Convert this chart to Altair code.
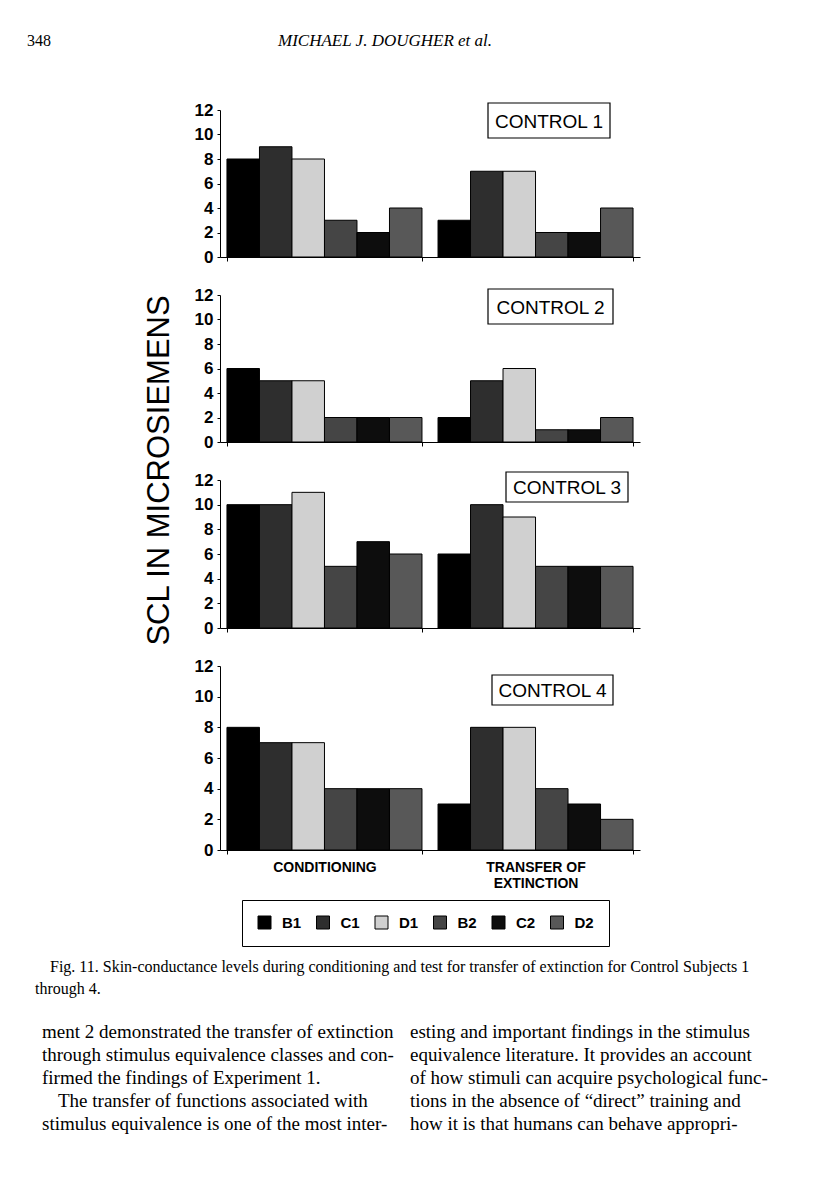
import altair as alt
import pandas as pd

# ---------------- data ----------------
groups = ["CONDITIONING", "TRANSFER OF EXTINCTION"]
series = ["B1", "C1", "D1", "B2", "C2", "D2"]
series_colors = ["#000000", "#2e2e2e", "#d0d0d0", "#454545", "#0d0d0d", "#585858"]

control1_cond = [8, 9, 8, 3, 2, 4]
control1_ext = [3, 7, 7, 2, 2, 4]
control2_cond = [6, 5, 5, 2, 2, 2]
control2_ext = [2, 5, 6, 1, 1, 2]
control3_cond = [10, 10, 11, 5, 7, 6]
control3_ext = [6, 10, 9, 5, 5, 5]
control4_cond = [8, 7, 7, 4, 4, 4]
control4_ext = [3, 8, 8, 4, 3, 2]

y_ticks = [0, 2, 4, 6, 8, 10, 12]
panel_labels = ["CONTROL 1", "CONTROL 2", "CONTROL 3", "CONTROL 4"]
y_title = "SCL IN MICROSIEMENS"

page_number = "348"
running_head = "MICHAEL J. DOUGHER et al."
caption_line1 = ("Fig. 11.  Skin-conductance levels during conditioning and test for "
                 "transfer of extinction for Control Subjects 1")
caption_line2 = "through 4."
left_column = [
    "ment 2 demonstrated the transfer of extinction",
    "through stimulus equivalence classes and con-",
    "firmed the findings of Experiment 1.",
    "The transfer of functions associated with",
    "stimulus equivalence is one of the most inter-",
]
left_indented = [False, False, False, True, False]
right_column = [
    "esting and important findings in the stimulus",
    "equivalence literature. It provides an account",
    "of how stimuli can acquire psychological func-",
    "tions in the absence of \u201cdirect\u201d training and",
    "how it is that humans can behave appropri-",
]

SANS = "Liberation Sans"
SERIF = "Liberation Serif"
W = 420


def text_layer(txt, x, y, **kw):
    return alt.Chart(pd.DataFrame({"t": [txt]})).mark_text(**kw).encode(
        text="t:N", x=alt.value(x), y=alt.value(y)
    )


def panel(cond, ext, label, height, box, legend=None, x_labels=False,
          ytitle=None, extras=()):
    df = pd.DataFrame({
        "group": [groups[0]] * len(series) + [groups[1]] * len(series),
        "series": series * 2,
        "value": cond + ext,
    })
    xaxis = alt.Axis(
        labels=x_labels, ticks=True, tickBand="extent", tickSize=4,
        tickColor="black", domainColor="black", title=None,
        labelFont=SANS, labelFontSize=14, labelFontWeight="bold",
        labelColor="black", labelPadding=6, labelLineHeight=16, labelAngle=0,
        labelExpr="datum.label == 'TRANSFER OF EXTINCTION' ? ['TRANSFER OF', 'EXTINCTION'] : datum.label",
    )
    yaxis_kw = dict(
        values=y_ticks, grid=False, tickSize=3, tickColor="black",
        domainColor="black", labelFont=SANS, labelFontSize=17,
        labelFontWeight="bold", labelColor="black", labelPadding=4,
    )
    if ytitle:
        yaxis = alt.Axis(title=ytitle, titleAngle=270, titleX=-61, titleY=175,
                         titleAlign="center", titleBaseline="middle",
                         titleFont=SANS, titleFontSize=31,
                         titleFontWeight="normal", titleColor="black",
                         **yaxis_kw)
    else:
        yaxis = alt.Axis(title=None, **yaxis_kw)

    bars = alt.Chart(df).mark_bar(stroke="black", strokeWidth=1).encode(
        x=alt.X("group:N", sort=groups,
                scale=alt.Scale(paddingInner=0.076, paddingOuter=0.033),
                axis=xaxis),
        xOffset=alt.XOffset("series:N", sort=series,
                            scale=alt.Scale(paddingInner=0, paddingOuter=0)),
        y=alt.Y("value:Q", scale=alt.Scale(domain=[0, 12], nice=False),
                axis=yaxis),
        color=alt.Color("series:N", sort=series,
                        scale=alt.Scale(domain=series, range=series_colors),
                        legend=legend),
    )
    x0, x1, y0, y1 = box
    lab_df = pd.DataFrame({"label": [label]})
    rect = alt.Chart(lab_df).mark_rect(
        fill="white", stroke="black", strokeWidth=1.2
    ).encode(x=alt.value(x0), x2=alt.value(x1), y=alt.value(y0), y2=alt.value(y1))
    txt = alt.Chart(lab_df).mark_text(
        font=SANS, fontSize=19, align="center", baseline="middle", color="black"
    ).encode(text="label:N", x=alt.value((x0 + x1) / 2), y=alt.value((y0 + y1) / 2 + 1))
    return alt.layer(bars, rect, txt, *extras).properties(width=W, height=height)


header = [
    text_layer(page_number, -193, -64, font=SERIF, fontSize=16, align="left",
               baseline="alphabetic", color="black"),
    text_layer(running_head, 165, -64, font=SERIF, fontSize=17, fontStyle="italic",
               align="center", baseline="alphabetic", color="black"),
]

body_style = dict(font=SERIF, fontSize=19, align="left", baseline="alphabetic",
                  color="black")
footer = [
    text_layer(caption_line1, -170, 306, font=SERIF, fontSize=16, align="left",
               baseline="alphabetic", color="black"),
    text_layer(caption_line2, -185, 328, font=SERIF, fontSize=16, align="left",
               baseline="alphabetic", color="black"),
]
for i, (line, ind) in enumerate(zip(left_column, left_indented)):
    footer.append(text_layer(line, -178 + (16 if ind else 0), 372 + 23 * i, **body_style))
for i, line in enumerate(right_column):
    footer.append(text_layer(line, 190, 372 + 23 * i, **body_style))

legend = alt.Legend(
    orient="none", legendX=22, legendY=234, direction="horizontal", title=None,
    symbolType="square", symbolSize=169, symbolStrokeColor="black",
    symbolStrokeWidth=1, symbolOpacity=1, labelFont=SANS, labelFontSize=15,
    labelFontWeight="bold", labelColor="black", labelOffset=10,
    columnPadding=12.5, strokeColor="black", padding=15, fillColor="white",
)

p1 = panel(control1_cond, control1_ext, panel_labels[0], 147, (268, 390, -7, 28),
           extras=header)
p2 = panel(control2_cond, control2_ext, panel_labels[1], 147, (268, 393, -6, 29),
           ytitle=y_title)
p3 = panel(control3_cond, control3_ext, panel_labels[2], 148, (286, 408, -8, 22))
p4 = panel(control4_cond, control4_ext, panel_labels[3], 184, (272, 393, 9, 39),
           legend=legend, x_labels=True, extras=footer)

chart = alt.vconcat(p1, p2, p3, p4, spacing=38, bounds="flush").resolve_legend(
    color="independent"
).properties(
    padding={"left": 19, "top": 24, "right": 5, "bottom": 5},
    background="white",
).configure_view(stroke=None)

chart.save("out.html", embed_options={"renderer": "svg", "actions": False})
